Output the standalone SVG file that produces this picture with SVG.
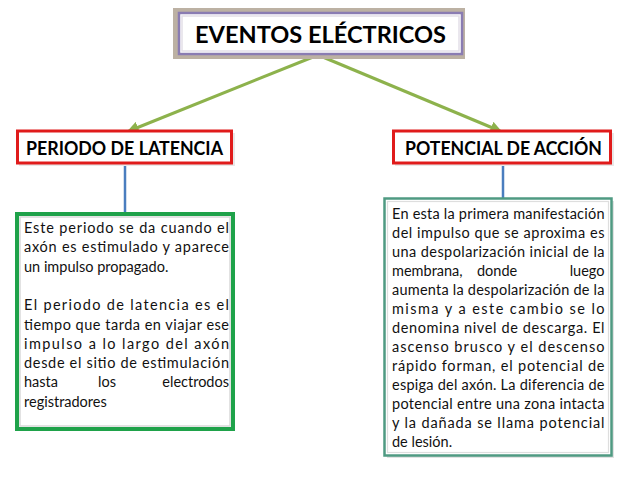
<svg xmlns="http://www.w3.org/2000/svg" width="638" height="479" viewBox="0 0 638 479">
<defs>
<style>
.t{font-family:Lato,"Liberation Sans",Arial,sans-serif;font-size:14.5px;fill:#111}
.h{font-family:Lato,"Liberation Sans",Arial,sans-serif;font-weight:bold;fill:#000}
.con{stroke:#8db24c;stroke-width:3;fill:none}
.blue{stroke:#4a7ebf;stroke-width:2.5;fill:none}
</style>
<marker id="ah" viewBox="0 0 10 10" refX="8" refY="5" markerWidth="4" markerHeight="4" orient="auto" markerUnits="strokeWidth">
<path d="M0,0 L10,5 L0,10 z" fill="#8db24c"/>
</marker>
</defs>
<rect width="638" height="479" fill="#ffffff"/>
<g id="connectors">
<line class="con" x1="318" y1="55" x2="129" y2="131" marker-end="url(#ah)"/>
<line class="con" x1="318" y1="55" x2="500" y2="131" marker-end="url(#ah)"/>
<line class="blue" x1="125" y1="166" x2="125" y2="213"/>
<line class="blue" x1="503" y1="166" x2="503" y2="198"/>
</g>
<g id="eventos">
<rect x="173" y="8" width="292" height="51" fill="#bcb1a3"/>
<rect x="179" y="13" width="283" height="41" fill="#fff" stroke="#8a7cb2" stroke-width="2.5"/>
<rect x="182" y="16" width="277" height="35" fill="none" stroke="#e3dfe8" stroke-width="1.5"/>
<text class="h" x="195" y="42.5" font-size="22" textLength="251" lengthAdjust="spacingAndGlyphs">EVENTOS ELÉCTRICOS</text>
</g>
<g id="periodo">
<rect x="19" y="133" width="216" height="33" fill="#d8d8d8" opacity="0.6"/>
<rect x="17.5" y="131" width="214" height="32" fill="#fff" stroke="#e01b1b" stroke-width="3"/>
<text class="h" x="26" y="155" font-size="18" textLength="197" lengthAdjust="spacingAndGlyphs">PERIODO DE LATENCIA</text>
</g>
<g id="potencial">
<rect x="395" y="133" width="219" height="33" fill="#d8d8d8" opacity="0.6"/>
<rect x="393.5" y="131" width="217" height="32" fill="#fff" stroke="#e01b1b" stroke-width="3"/>
<text class="h" x="405" y="155" font-size="18" textLength="197" lengthAdjust="spacingAndGlyphs">POTENCIAL DE ACCIÓN</text>
</g>
<g id="texto-latencia">
<rect x="17" y="214" width="216" height="215" fill="#fff" stroke="#1fa24a" stroke-width="4"/>
<rect x="20" y="217" width="210" height="209" fill="none" stroke="#d9d9d9" stroke-width="1.5"/>
<text class="t" x="24" y="233" textLength="205" lengthAdjust="spacing">Este  periodo se da cuando el</text>
<text class="t" x="24" y="252.3" textLength="205" lengthAdjust="spacing">axón es estimulado y aparece</text>
<text class="t" x="24" y="271.6">un impulso propagado.</text>
<text class="t" x="24" y="310.2" textLength="205" lengthAdjust="spacing">El periodo de latencia es el</text>
<text class="t" x="24" y="329.5" textLength="205" lengthAdjust="spacing">tiempo que tarda en viajar ese</text>
<text class="t" x="24" y="348.8" textLength="205" lengthAdjust="spacing">impulso a lo largo del axón</text>
<text class="t" x="24" y="368.1" textLength="205" lengthAdjust="spacing">desde el sitio  de estimulación</text>
<text class="t" y="387.4"><tspan x="24">hasta</tspan><tspan x="98">los</tspan><tspan x="229" text-anchor="end">electrodos</tspan></text>
<text class="t" x="24" y="406.7">registradores</text>
</g>
<g id="texto-accion">
<rect x="387" y="201" width="227" height="257" fill="#cfcfcf" opacity="0.6"/>
<rect x="384.5" y="198.5" width="227" height="257" fill="#fff" stroke="#4f9a82" stroke-width="2.5"/>
<rect x="387.5" y="201.5" width="221" height="251" fill="none" stroke="#dedede" stroke-width="1.2"/>
<text class="t" x="392" y="219.3" textLength="212.5" lengthAdjust="spacing">En esta la primera manifestación</text>
<text class="t" x="392" y="238.3" textLength="212.5" lengthAdjust="spacing">del impulso que se aproxima  es</text>
<text class="t" x="392" y="257.3" textLength="212.5" lengthAdjust="spacing">una despolarización inicial  de la</text>
<text class="t" y="276.3"><tspan x="392">membrana,</tspan><tspan x="477">donde</tspan><tspan x="604.5" text-anchor="end">luego</tspan></text>
<text class="t" x="392" y="295.3" textLength="212.5" lengthAdjust="spacing">aumenta la despolarización de la</text>
<text class="t" x="392" y="314.3" textLength="212.5" lengthAdjust="spacing">misma y a este cambio se lo</text>
<text class="t" x="392" y="333.3" textLength="212.5" lengthAdjust="spacing">denomina nivel de descarga. El</text>
<text class="t" x="392" y="352.3" textLength="212.5" lengthAdjust="spacing">ascenso brusco y el descenso</text>
<text class="t" x="392" y="371.3" textLength="212.5" lengthAdjust="spacing">rápido forman, el potencial de</text>
<text class="t" x="392" y="390.3" textLength="212.5" lengthAdjust="spacing">espiga del axón. La diferencia de</text>
<text class="t" x="392" y="409.3" textLength="212.5" lengthAdjust="spacing">potencial entre una zona intacta</text>
<text class="t" x="392" y="428.3" textLength="212.5" lengthAdjust="spacing">y la dañada se llama potencial</text>
<text class="t" x="392" y="447.3">de lesión.</text>
</g>
</svg>
